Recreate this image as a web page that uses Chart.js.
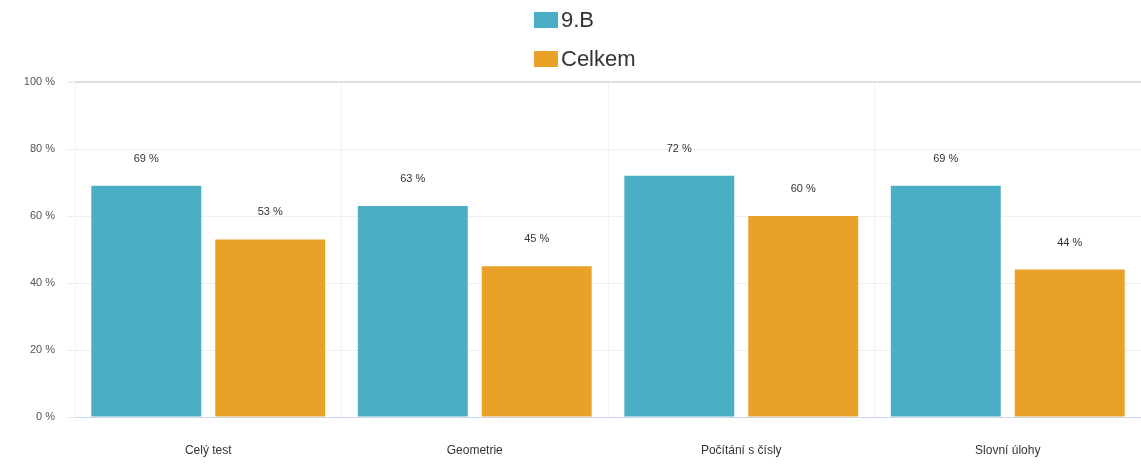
<!DOCTYPE html>
<html>
<head>
<meta charset="utf-8">
<script src="https://cdn.jsdelivr.net/npm/chart.js@4"></script>
<style>
  html, body { margin: 0; padding: 0; background: #fff; }
  #wrap { width: 1141px; height: 464px; }
</style>
</head>
<body>
<div id="wrap"><canvas id="myChart" width="1141" height="464"></canvas></div>
<script>
const categories = ['Celý test', 'Geometrie', 'Počítání s čísly', 'Slovní úlohy'];
const seriesNames = ['9.B', 'Celkem'];
const classValues = [69, 63, 72, 69];
const totalValues = [53, 45, 60, 44];
const yTicks = [0, 20, 40, 60, 80, 100];
const colors = ['#4aafc5', '#e9a127'];

const FONT = 'Arial, "Liberation Sans", sans-serif';

// legend stacked vertically above the plot
const legendPlugin = {
    id: 'stackedLegend',
    afterDraw(chart) {
        const ctx = chart.ctx;
        ctx.save();
        ctx.font = '22px ' + FONT;
        ctx.textBaseline = 'middle';
        ctx.textAlign = 'left';
        chart.data.datasets.forEach((ds, i) => {
            const y = 20 + i * 39;
            ctx.fillStyle = ds.backgroundColor;
            ctx.fillRect(534, y - 8, 24, 16);
            ctx.fillStyle = '#333';
            ctx.fillText(ds.label, 561, y + 1);
        });
        ctx.restore();
    }
};

// value labels above each bar
const valueLabels = {
    id: 'valueLabels',
    afterDatasetsDraw(chart) {
        const ctx = chart.ctx;
        ctx.save();
        ctx.font = '11px ' + FONT;
        ctx.fillStyle = '#333';
        ctx.textAlign = 'center';
        ctx.textBaseline = 'middle';
        chart.data.datasets.forEach((ds, di) => {
            chart.getDatasetMeta(di).data.forEach((bar, i) => {
                ctx.fillText(ds.data[i] + ' %', bar.x, bar.y - 27);
            });
        });
        ctx.restore();
    }
};

new Chart(document.getElementById('myChart'), {
    type: 'bar',
    data: {
        labels: categories,
        datasets: [
            { label: seriesNames[0], data: classValues, backgroundColor: colors[0] },
            { label: seriesNames[1], data: totalValues, backgroundColor: colors[1] }
        ]
    },
    options: {
        responsive: false,
        animation: false,
        layout: { padding: { top: 82, right: 0, left: 0, bottom: 0 } },
        datasets: {
            bar: { barPercentage: 0.887, categoryPercentage: 0.93 }
        },
        plugins: {
            legend: { display: false },
            tooltip: { enabled: false }
        },
        scales: {
            x: {
                afterFit: s => { s.height = 47; },
                grid: { color: '#f2f2f2', drawTicks: false },
                border: { color: '#ccd6eb' },
                ticks: { color: '#333', font: { family: FONT, size: 12 }, padding: 26 }
            },
            y: {
                min: 0,
                max: 100,
                afterFit: s => { s.width = 75; },
                afterBuildTicks: s => { s.ticks = yTicks.map(v => ({ value: v })); },
                grid: {
                    color: ctx => ctx.tick && ctx.tick.value === 100 ? '#dedede' : '#efefef',
                    lineWidth: ctx => ctx.tick && ctx.tick.value === 100 ? 2 : 1,
                    tickLength: 8,
                    tickColor: '#eeeeee'
                },
                border: { display: false },
                ticks: {
                    color: '#555',
                    font: { family: FONT, size: 11 },
                    padding: 12,
                    callback: v => v + ' %'
                }
            }
        }
    },
    plugins: [legendPlugin, valueLabels]
});
</script>
</body>
</html>
